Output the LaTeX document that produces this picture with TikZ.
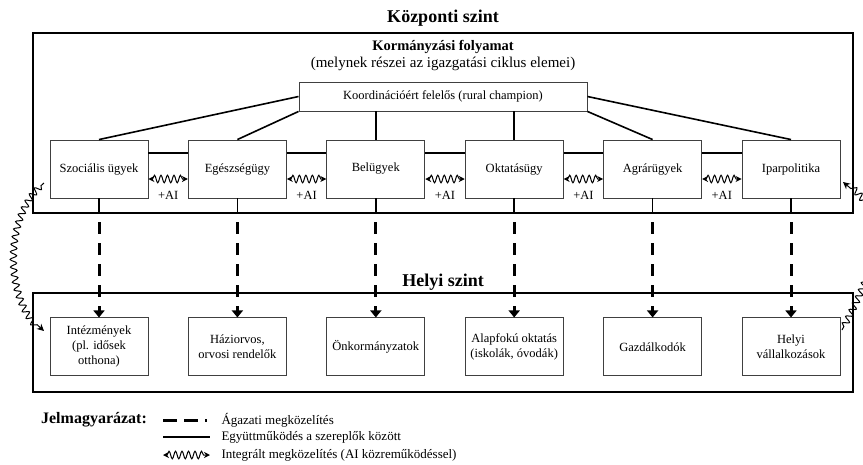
\documentclass[tikz,border=0pt]{standalone}
\usepackage{fontspec}
\setmainfont{Liberation Serif}
\usetikzlibrary{positioning, arrows.meta, decorations.pathmorphing}

\tikzset{
  doboz/.style={draw=black!75, line width=0.9pt, minimum width=98pt, minimum height=58pt, align=center, inner sep=2pt},
  cim/.style={font=\bfseries\fontsize{18}{20}\selectfont},
  keret/.style={line width=1.8pt},
  kapcs/.style={line width=1.6pt},
  agazativonal/.style={line width=3pt, dash pattern=on 14pt off 7pt},
  agazati/.style={agazativonal, dash pattern=on 12pt off 9pt, shorten <=9pt, -{Triangle[width=11pt,length=7pt]}},
  hullam/.style={line width=1pt, decorate, decoration={snake, amplitude=3.8pt, segment length=6.5pt, pre length=4pt, post length=4pt}},
  integralt/.style={hullam, {Stealth[length=6pt,width=6pt]}-{Stealth[length=6pt,width=6pt]}},
  hosszu/.style={hullam, decoration={amplitude=3.2pt, segment length=7.5pt, post length=8pt}, -{Stealth[length=7pt,width=7pt]}},
  jelmag/.style={anchor=west, font=\fontsize{13}{15}\selectfont}
}

\begin{document}
\begin{tikzpicture}[x=1pt, y=-1pt, node distance=39.5pt, font=\fontsize{12.5}{15}\selectfont]
\useasboundingbox (0,0) rectangle (863,464);
% Keretek
\coordinate (k1) at (33,33);
\coordinate (k2) at (853,213);
\coordinate (h1) at (33,293);
\coordinate (h2) at (853,392);
\draw[keret] (k1) rectangle (k2);
\draw[keret] (h1) rectangle (h2);
% Cimek
\node[cim] (kozp) at (443,18) {Központi szint};
\node[font=\bfseries\fontsize{14.5}{17}\selectfont] (korm) at (443,47) {Kormányzási folyamat};
\node[font=\fontsize{15}{17}\selectfont] (resz) at (443,64) {(melynek részei az igazgatási ciklus elemei)};
\node[cim] (helyi) at (443,282) {Helyi szint};
% Koordinacio
\node[doboz, minimum width=288pt, minimum height=29pt] (koord) at (443,96.5) {Koordinációért felelős (rural champion)};
% Agazatok
\node[doboz] (szoc) at (99,169) {Szociális ügyek};
\node[doboz, right=of szoc] (egesz) {Egészségügy};
\node[doboz, right=of egesz] (bel) {Belügyek};
\node[doboz, right=of bel] (okt) {Oktatásügy};
\node[doboz, right=of okt] (agr) {Agrárügyek};
\node[doboz, right=of agr] (ipar) {Iparpolitika};
% Helyi szereplok
\node[doboz, below=119pt of szoc] (intez) {Intézmények\\(pl. idősek\\otthona)};
\node[doboz, below=119pt of egesz] (hazi) {Háziorvos,\\orvosi rendelők};
\node[doboz, below=119pt of bel] (onk) {Önkormányzatok};
\node[doboz, below=119pt of okt] (alap) {Alapfokú oktatás\\(iskolák, óvodák)};
\node[doboz, below=119pt of agr] (gazd) {Gazdálkodók};
\node[doboz, below=119pt of ipar] (vall) {Helyi\\vállalkozások};
% Egyuttmukodes
\draw[kapcs] (koord.west) -- (szoc.north);
\draw[kapcs] (koord.south west) -- (egesz.north);
\draw[kapcs] (koord.south -| bel) -- (bel.north);
\draw[kapcs] (koord.south -| okt) -- (okt.north);
\draw[kapcs] (koord.south east) -- (agr.north);
\draw[kapcs] (koord.east) -- (ipar.north);
\foreach \a/\b in {szoc/egesz, egesz/bel, bel/okt, okt/agr, agr/ipar} {
  \draw[kapcs] ([yshift=16pt]\a.east) -- ([yshift=16pt]\b.west);
  \draw[integralt] ([yshift=-10pt]\a.east) -- ([yshift=-10pt]\b.west);
  \path ([yshift=-10pt]\a.east) -- node[yshift=-16pt] (ai-\a) {+AI} ([yshift=-10pt]\b.west);
}
% Agazati megkozelites
\foreach \a/\b in {szoc/intez, egesz/hazi, bel/onk, okt/alap, agr/gazd, ipar/vall} {
  \draw[kapcs] (\a.south) -- (\a.south |- k2);
  \draw[agazati] (\a.south |- k2) -- (\b.north);
}
% Integralt (hullamos) nyilak
\coordinate (bal1) at (44,183);
\coordinate (bal2) at (44,331);
\draw[hosszu] (bal1) .. controls (5,215) and (5,300) .. (bal2);
\coordinate (jobb1) at (842,330);
\coordinate (jobb2) at (843,182);
\draw[hosszu] (jobb1) .. controls (885,250) and (885,215) .. (jobb2);
% Jelmagyarazat
\node[font=\bfseries\fontsize{16}{18}\selectfont] (jel) at (94,420) {Jelmagyarázat:};
\coordinate (l1a) at (163,420); \coordinate (l1b) at (207,420);
\coordinate (l2a) at (163,437); \coordinate (l2b) at (210,437);
\coordinate (l3a) at (163,455); \coordinate (l3b) at (210,455);
\draw[agazativonal] (l1a) -- (l1b);
\draw[kapcs] (l2a) -- (l2b);
\draw[integralt] (l3a) -- (l3b);
\node[jelmag] (t1) at (218,420) {Ágazati megközelítés};
\node[jelmag] (t2) at (218,437) {Együttműködés a szereplők között};
\node[jelmag] (t3) at (218,455) {Integrált megközelítés (AI közreműködéssel)};
\end{tikzpicture}
\end{document}
